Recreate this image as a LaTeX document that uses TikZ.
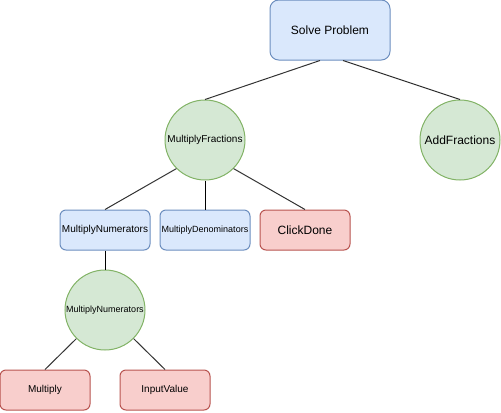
\documentclass[tikz,border=0pt]{standalone}
\usepackage{fontspec}
\setmainfont{Liberation Sans}
\usepackage{xcolor}
\usetikzlibrary{calc}

\definecolor{bluefill}{HTML}{DAE8FC}
\definecolor{bluedraw}{HTML}{6C8EBF}
\definecolor{greenfill}{HTML}{D5E8D4}
\definecolor{greendraw}{HTML}{82B366}
\definecolor{redfill}{HTML}{F8CECC}
\definecolor{reddraw}{HTML}{B85450}
\definecolor{edgegray}{HTML}{333333}

\begin{document}
\begin{tikzpicture}[x=0.75pt, y=-0.75pt,
    task/.style={draw=bluedraw, fill=bluefill, rounded corners=4.5pt, line width=0.75pt,
        minimum width=67.5pt, minimum height=30pt, inner sep=0pt},
    action/.style={task, draw=reddraw, fill=redfill},
    method/.style={circle, draw=greendraw, fill=greenfill, line width=0.75pt,
        minimum size=60pt, inner sep=0pt},
    link/.style={draw=edgegray, line width=0.75pt},
    big/.style={font=\fontsize{9pt}{10pt}\selectfont},
    small/.style={font=\fontsize{7.5pt}{9pt}\selectfont},
    tiny/.style={font=\fontsize{6.75pt}{8pt}\selectfont}]
    \useasboundingbox (0,0) rectangle (501,412);

    % Top level
    \node[task, big, minimum width=90pt, minimum height=45pt, rounded corners=6.5pt] (sp) at (330,30) {Solve Problem};
    \node[method, small] (mf) at (205,140) {MultiplyFractions};
    \node[method, big] (af) at (460,140) {AddFractions};

    % Second level
    \node[task, small] (mn) at (105,230) {MultiplyNumerators};
    \node[task, tiny] (md) at (205,230) {MultiplyDenominators};
    \node[action, big] (cd) at (305,230) {ClickDone};

    % Third level
    \node[method, tiny] (mnm) at (105,310) {MultiplyNumerators};
    \node[action, small] (mu) at (45,390) {Multiply};
    \node[action, small] (iv) at (165,390) {InputValue};

    % Links
    \draw[link] ($(sp.south)+(-10,0)$) -- (mf.north);
    \draw[link] ($(sp.south)+(13,0)$) -- (af.north);
    \draw[link] (mf.225) -- (mn.north);
    \draw[link, draw=black] (mf.south) -- (md.north);
    \draw[link] (mf.315) -- (cd.north);
    \draw[link, draw=black] (mn.south) -- (mnm.north);
    \draw[link] (mnm.225) -- (mu.north);
    \draw[link] (mnm.315) -- (iv.north);
\end{tikzpicture}
\end{document}
